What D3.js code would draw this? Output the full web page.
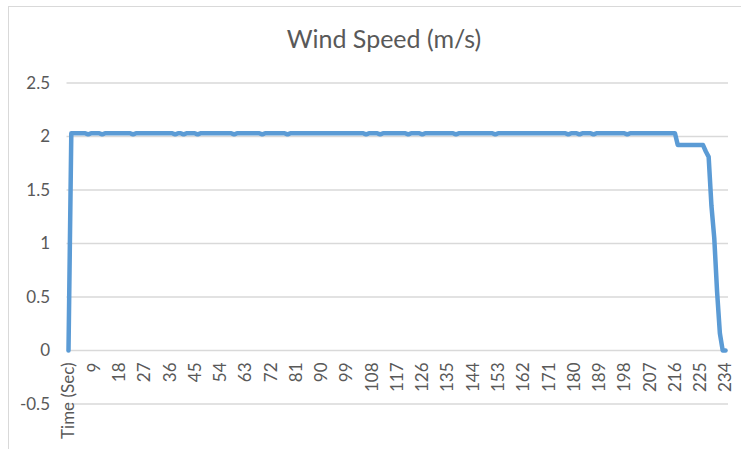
<!DOCTYPE html>
<html>
<head>
<meta charset="utf-8">
<script src="https://cdn.jsdelivr.net/npm/d3@7"></script>
<style>
  body { margin: 0; background: #fff; }
  svg { display: block; font-family: Lato, "Open Sans", sans-serif; }
</style>
</head>
<body>
<div id="chart"></div>
<script>
'use strict';

var title = 'Wind Speed (m/s)';
var firstCategory = 'Time (Sec)';

// wind speed per second (index 0 is the header row)
var speeds = [
  0, 2.03, 2.03, 2.03, 2.03, 2.03, 2.03, 2.02, 2.03, 2.03,
  2.03, 2.03, 2.02, 2.03, 2.03, 2.03, 2.03, 2.03, 2.03, 2.03,
  2.03, 2.03, 2.03, 2.02, 2.03, 2.03, 2.03, 2.03, 2.03, 2.03,
  2.03, 2.03, 2.03, 2.03, 2.03, 2.03, 2.03, 2.03, 2.02, 2.03,
  2.03, 2.02, 2.03, 2.03, 2.03, 2.03, 2.02, 2.03, 2.03, 2.03,
  2.03, 2.03, 2.03, 2.03, 2.03, 2.03, 2.03, 2.03, 2.03, 2.02,
  2.03, 2.03, 2.03, 2.03, 2.03, 2.03, 2.03, 2.03, 2.03, 2.02,
  2.03, 2.03, 2.03, 2.03, 2.03, 2.03, 2.03, 2.03, 2.02, 2.03,
  2.03, 2.03, 2.03, 2.03, 2.03, 2.03, 2.03, 2.03, 2.03, 2.03,
  2.03, 2.03, 2.03, 2.03, 2.03, 2.03, 2.03, 2.03, 2.03, 2.03,
  2.03, 2.03, 2.03, 2.03, 2.03, 2.03, 2.02, 2.03, 2.03, 2.03,
  2.03, 2.02, 2.03, 2.03, 2.03, 2.03, 2.03, 2.03, 2.03, 2.03,
  2.03, 2.02, 2.03, 2.03, 2.03, 2.03, 2.02, 2.03, 2.03, 2.03,
  2.03, 2.03, 2.03, 2.03, 2.03, 2.03, 2.03, 2.03, 2.02, 2.03,
  2.03, 2.03, 2.03, 2.03, 2.03, 2.03, 2.03, 2.03, 2.03, 2.03,
  2.03, 2.03, 2.02, 2.03, 2.03, 2.03, 2.03, 2.03, 2.03, 2.03,
  2.03, 2.03, 2.03, 2.03, 2.03, 2.03, 2.03, 2.03, 2.03, 2.03,
  2.03, 2.03, 2.03, 2.03, 2.03, 2.03, 2.03, 2.03, 2.02, 2.03,
  2.03, 2.03, 2.02, 2.03, 2.03, 2.03, 2.03, 2.02, 2.03, 2.03,
  2.03, 2.03, 2.03, 2.03, 2.03, 2.03, 2.03, 2.03, 2.03, 2.02,
  2.03, 2.03, 2.03, 2.03, 2.03, 2.03, 2.03, 2.03, 2.03, 2.03,
  2.03, 2.03, 2.03, 2.03, 2.03, 2.03, 2.03, 1.92, 1.92, 1.92,
  1.92, 1.92, 1.92, 1.92, 1.92, 1.92, 1.92, 1.86, 1.81, 1.35,
  1.05, 0.55, 0.16, 0, 0
];

var yTicks = [-0.5, 0, 0.5, 1, 1.5, 2, 2.5];
var yTickLabels = ['-0.5', '0', '0.5', '1', '1.5', '2', '2.5'];
var labelEvery = 9;

var width = 741, height = 449;
var textColor = '#595959', gridColor = '#d9d9d9', lineColor = '#5b9bd5';

var svg = d3.select('#chart').append('svg')
  .attr('width', width)
  .attr('height', height);

// chart area border (right and bottom edges fall outside the window)
svg.append('rect')
  .attr('x', 8.5).attr('y', 6.5)
  .attr('width', 760).attr('height', 460)
  .attr('fill', 'none')
  .attr('stroke', gridColor);

var x = d3.scaleLinear()
  .domain([0, speeds.length - 1])
  .range([68.5, 725.5]);

var y = d3.scaleLinear()
  .domain([-0.5, 2.5])
  .range([404, 83]);

svg.append('text')
  .attr('x', 384).attr('y', 48)
  .attr('text-anchor', 'middle')
  .style('font-size', '25px')
  .style('fill', textColor)
  .text(title);

// horizontal gridlines
svg.append('g').selectAll('line')
  .data(yTicks)
  .enter().append('line')
  .attr('x1', x.range()[0] - 2)
  .attr('x2', x.range()[1] + 2.5)
  .attr('y1', function(d) { return y(d) })
  .attr('y2', function(d) { return y(d) })
  .attr('stroke', gridColor)
  .attr('stroke-width', 1.5);

// y axis labels
svg.append('g').selectAll('text')
  .data(yTicks)
  .enter().append('text')
  .attr('x', 50)
  .attr('y', function(d) { return y(d) })
  .attr('dy', '0.35em')
  .attr('text-anchor', 'end')
  .style('font-size', '17px')
  .style('fill', textColor)
  .text(function(d, i) { return yTickLabels[i] });

// category labels, rotated, every 9th category
var catIdx = d3.range(speeds.length).filter(function(i) { return i % labelEvery === 0 });

svg.append('g').selectAll('text')
  .data(catIdx)
  .enter().append('text')
  .attr('transform', function(i) { return 'translate(' + x(i) + ',' + (y(0) + 12) + ') rotate(-90)' })
  .attr('dy', '0.35em')
  .attr('text-anchor', 'end')
  .style('font-size', '17px')
  .style('fill', textColor)
  .text(function(i) { return i === 0 ? firstCategory : String(i) });

var line = d3.line()
  .x(function(d, i) { return x(i) })
  .y(function(d) { return y(d) });

svg.append('path')
  .datum(speeds)
  .attr('d', line)
  .attr('fill', 'none')
  .attr('stroke', lineColor)
  .attr('stroke-width', 4.5)
  .attr('stroke-linejoin', 'round')
  .attr('stroke-linecap', 'round');
</script>
</body>
</html>
